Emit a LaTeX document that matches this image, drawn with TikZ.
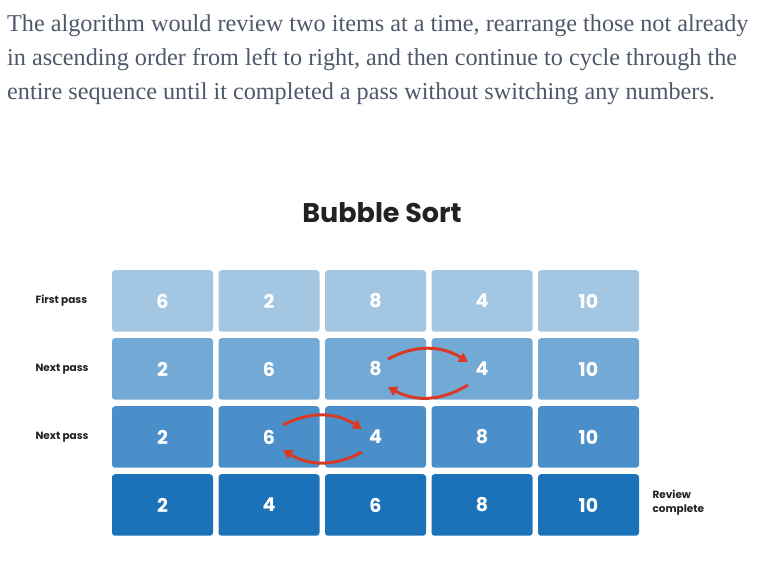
\documentclass[tikz,border=0pt]{standalone}
\usepackage{fontspec}
\setmainfont{Liberation Serif}
\setsansfont{Poppins}
\newfontfamily\parafont{Liberation Serif}
\usetikzlibrary{arrows.meta,positioning}
\definecolor{passA}{HTML}{A3C7E3}
\definecolor{passB}{HTML}{72A9D5}
\definecolor{passC}{HTML}{4A8FC9}
\definecolor{passD}{HTML}{1B72B9}
\definecolor{swapred}{HTML}{D83A26}
\definecolor{paragrey}{HTML}{4E586A}
\definecolor{titleblack}{HTML}{222222}
\begin{document}
\begin{tikzpicture}[x=1pt,y=1pt,
            % Styles for cells, labels and swap arrows
            cell/.style={rectangle, rounded corners=3pt, minimum width=101pt,
              minimum height=61.5pt, inner sep=0pt, text=white,
              font=\sffamily\bfseries\fontsize{19}{19}\selectfont},
            passlabel/.style={anchor=west, align=left, text=titleblack,
              font=\sffamily\bfseries\fontsize{10.5}{14}\selectfont},
            paraline/.style={anchor=base west, inner sep=0pt, text=paragrey,
              font=\parafont\fontsize{24.2}{24.2}\selectfont},
            swap/.style={-{Triangle[length=9pt,width=10pt]}, line width=3pt,
              swapred, bend left=30},
            ]

            % Canvas
            \useasboundingbox (0,0) rectangle (761,572);

            % Paragraph
            \node[paraline] (T1) at (7,540) {The algorithm would review two items at a time, rearrange those not already};
            \node[paraline] (T2) at (7,506) {in ascending order from left to right, and then continue to cycle through the};
            \node[paraline] (T3) at (7,472) {entire sequence until it completed a pass without switching any numbers.};

            % Title
            \node[anchor=base, text=titleblack,
              font=\sffamily\bfseries\fontsize{27}{27}\selectfont] (title) at (382,349) {Bubble Sort};

            % Rows of cells
            \foreach \v [count=\j] in {6,2,8,4,10}
                \node[cell, fill=passA] (b1\j) at (56+106.5*\j,271) {\v};
            \foreach \v [count=\j] in {2,6,8,4,10}
                \node[cell, fill=passB] (b2\j) at (56+106.5*\j,203) {\v};
            \foreach \v [count=\j] in {2,6,4,8,10}
                \node[cell, fill=passC] (b3\j) at (56+106.5*\j,135) {\v};
            \foreach \v [count=\j] in {2,4,6,8,10}
                \node[cell, fill=passD] (b4\j) at (56+106.5*\j,67) {\v};

            % Row labels
            \node[passlabel] (L1) at (32,271) {First pass};
            \node[passlabel] (L2) at (32,203) {Next pass};
            \node[passlabel] (L3) at (32,135) {Next pass};
            \node[passlabel] (L4) at (649,69) {Review\\complete};

            % Swap 8 and 4
            \draw[swap] ([shift={(12.5,10)}]b23.center) to ([shift={(-14,7)}]b24.center);
            \draw[swap] ([shift={(-14,-16)}]b24.center) to ([shift={(12.5,-18)}]b23.center);

            % Swap 6 and 4
            \draw[swap] ([shift={(14,12)}]b32.center) to ([shift={(-13.5,8)}]b33.center);
            \draw[swap] ([shift={(-13.5,-15)}]b33.center) to ([shift={(14,-13)}]b32.center);

        \end{tikzpicture}
\end{document}
